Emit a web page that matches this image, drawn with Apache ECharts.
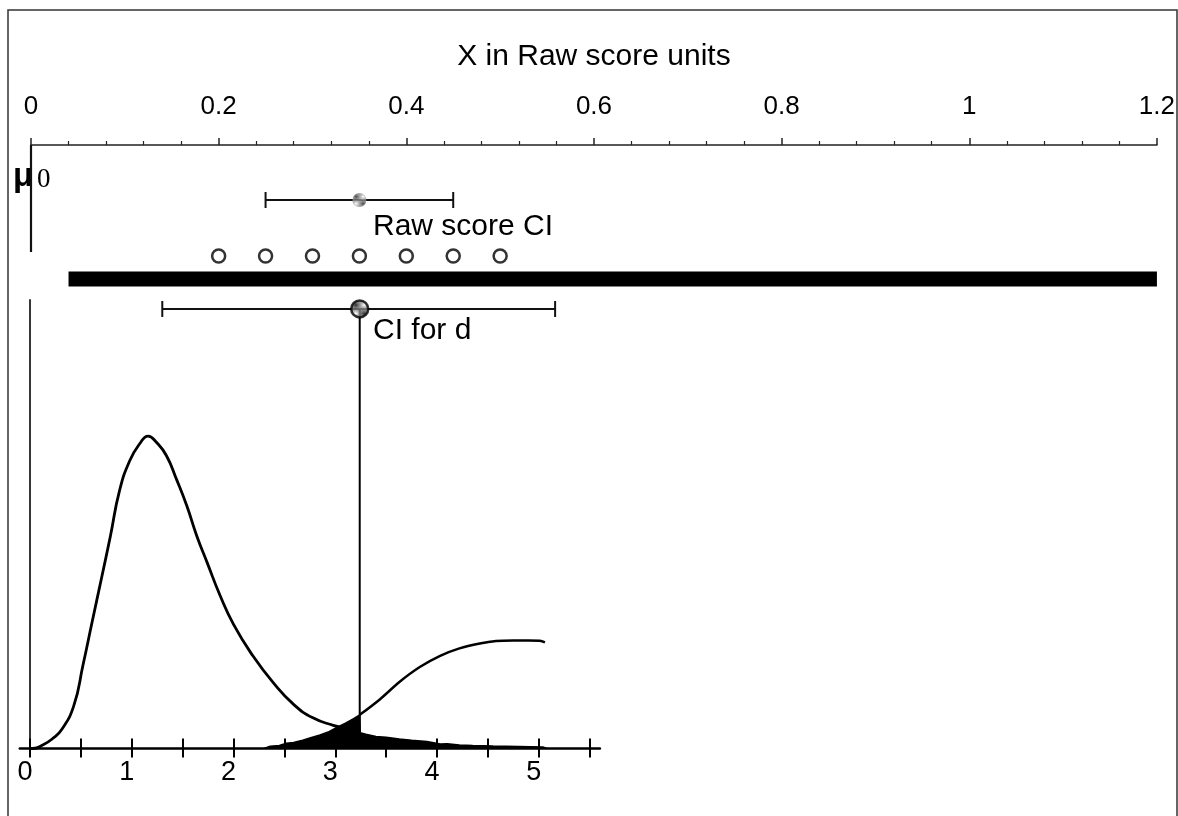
<!DOCTYPE html>
<html>
<head>
<meta charset="utf-8">
<script src="https://cdn.jsdelivr.net/npm/echarts@6/dist/echarts.min.js"></script>
<style>
  html, body { margin: 0; padding: 0; background: #fff; }
  #chart { width: 1178px; height: 816px; }
</style>
</head>
<body>
<div id="chart"></div>
<script>
// raw score units (top scale)
const rawCI = [0.25, 0.45];
const rawMean = 0.35;
const rawSamples = [0.2, 0.25, 0.3, 0.35, 0.4, 0.45, 0.5];
const rawBand = [0.04, 1.2];

// d units (bottom scale)
const dCI = [1.30, 5.16];
const dObs = 3.24;
const dTicks = [0, 0.5, 1, 1.5, 2, 2.5, 3, 3.5, 4, 4.5, 5, 5.5];
const dLabels = [0, 1, 2, 3, 4, 5];

// sampling density of d
const densX = [0, 0.03, 0.13, 0.22, 0.31, 0.43, 0.52, 0.61, 0.70, 0.79, 0.88, 0.98, 1.08, 1.16, 1.24, 1.34, 1.44, 1.54, 1.64, 1.74, 1.87, 2.0, 2.19, 2.39, 2.59, 2.78, 2.98, 3.08];
const densY = [0, 0, 0.005, 0.013, 0.025, 0.057, 0.111, 0.169, 0.226, 0.284, 0.345, 0.385, 0.408, 0.418, 0.410, 0.392, 0.360, 0.325, 0.284, 0.249, 0.204, 0.166, 0.124, 0.088, 0.059, 0.041, 0.031, 0.028];

// rising curve to the right of observed d
const riseX = [3.24, 3.44, 3.63, 3.83, 4.03, 4.22, 4.42, 4.58, 4.75, 4.90, 5.01, 5.06];
const riseY = [0.045, 0.066, 0.089, 0.109, 0.124, 0.134, 0.1405, 0.1438, 0.1445, 0.1445, 0.1443, 0.142];

// filled histogram around observed d
const fillX = [2.30, 2.36, 2.45, 2.52, 2.59, 2.68, 2.75, 2.85, 2.93, 3.01, 3.10, 3.18, 3.24, 3.245, 3.30, 3.40, 3.50, 3.63, 3.75, 3.90, 4.03, 4.10, 4.22, 4.35, 4.55, 4.80, 5.04, 5.08];
const fillY = [0, 0.003, 0.004, 0.007, 0.008, 0.011, 0.014, 0.018, 0.022, 0.028, 0.034, 0.040, 0.045, 0.021, 0.019, 0.016, 0.015, 0.0127, 0.011, 0.0094, 0.006, 0.0062, 0.0047, 0.004, 0.0033, 0.0027, 0.002, 0];

// row levels inside the top grid (pixels below the raw axis)
const ROW_RAW_CI = 55, ROW_SAMPLES = 111, ROW_BAND = 134, ROW_MU_END = 107;
const ROW_D_CI = 0.588;

const zip = (xs, ys) => xs.map((x, i) => [x, ys[i]]);

// checkered fill like the printed dots
function checker(dark) {
    const c = document.createElement('canvas');
    c.width = 2; c.height = 2;
    const ctx = c.getContext('2d');
    ctx.fillStyle = '#fff';
    ctx.fillRect(0, 0, 2, 2);
    ctx.fillStyle = dark;
    ctx.fillRect(0, 0, 1, 1);
    ctx.fillRect(1, 1, 1, 1);
    return { image: c, repeat: 'repeat' };
}

function errorBar(params, api) {
    const lo = api.coord([api.value(0), api.value(2)]);
    const hi = api.coord([api.value(1), api.value(2)]);
    const cap = 8;
    const st = { stroke: '#111', lineWidth: 2 };
    return {
        type: 'group',
        children: [
            { type: 'line', shape: { x1: lo[0], y1: lo[1], x2: hi[0], y2: hi[1] }, style: st },
            { type: 'line', shape: { x1: lo[0], y1: lo[1] - cap, x2: lo[0], y2: lo[1] + cap }, style: st },
            { type: 'line', shape: { x1: hi[0], y1: hi[1] - cap, x2: hi[0], y2: hi[1] + cap }, style: st }
        ]
    };
}

const font = 'Liberation Sans, Arial, sans-serif';
const chart = echarts.init(document.getElementById('chart'));

const option = {
    animation: false,
    backgroundColor: '#fff',
    textStyle: { fontFamily: font, color: '#000' },
    grid: [
        { left: 31, right: 21, top: 145, height: 150 },
        { left: 19.8, width: 580.1, top: 300, height: 448.5 }
    ],
    xAxis: [
        {
            gridIndex: 0, type: 'value', position: 'top', min: 0, max: 1.2, interval: 0.2,
            name: 'X in Raw score units', nameLocation: 'middle', nameGap: 73,
            nameTextStyle: { fontSize: 30, color: '#000', fontFamily: font },
            axisLine: { show: true, lineStyle: { color: '#222', width: 1.5 } },
            axisTick: { show: true, length: 7, lineStyle: { color: '#222', width: 1.5 } },
            minorTick: { show: true, splitNumber: 5, length: 4, lineStyle: { color: '#222', width: 1.2 } },
            axisLabel: { fontSize: 26, color: '#000', margin: 25, fontFamily: font,
                formatter: v => String(+v.toFixed(1)) },
            splitLine: { show: false }
        },
        {
            gridIndex: 1, type: 'value', position: 'bottom', min: -0.1, max: 5.6,
            axisLine: { show: true, onZero: false, lineStyle: { color: '#000', width: 2.5 } },
            axisTick: { show: true, customValues: dTicks, length: 9, lineStyle: { color: '#000', width: 2 } },
            axisLabel: { customValues: dLabels, fontSize: 27, color: '#000', margin: 11,
                padding: [0, 10, 0, 0], fontFamily: font },
            splitLine: { show: false }
        },
        {
            gridIndex: 1, type: 'value', position: 'bottom', min: -0.1, max: 5.6,
            axisLine: { show: false, onZero: false },
            axisTick: { show: true, inside: true, customValues: dTicks, length: 10, lineStyle: { color: '#000', width: 2 } },
            axisLabel: { show: false },
            splitLine: { show: false }
        }
    ],
    yAxis: [
        {
            gridIndex: 0, type: 'value', inverse: true, min: 0, max: 150, show: false
        },
        {
            gridIndex: 1, type: 'value', min: 0, max: 0.6,
            axisLine: { show: true, onZero: true, lineStyle: { color: '#222', width: 1.8 } },
            axisTick: { show: false }, axisLabel: { show: false }, splitLine: { show: false }
        }
    ],
    series: [
        // mu0 reference line
        {
            type: 'line', xAxisIndex: 0, yAxisIndex: 0, symbol: 'none',
            data: [[0, 0], [0, ROW_MU_END]],
            lineStyle: { color: '#111', width: 2.2 }
        },
        // band across the raw scale
        {
            type: 'line', xAxisIndex: 0, yAxisIndex: 0, symbol: 'none',
            data: [[rawBand[0], ROW_BAND], [rawBand[1], ROW_BAND]],
            lineStyle: { color: '#000', width: 15, cap: 'butt' }
        },
        // raw score CI
        {
            type: 'custom', xAxisIndex: 0, yAxisIndex: 0, renderItem: errorBar,
            encode: { x: [0, 1], y: 2 },
            data: [[rawCI[0], rawCI[1], ROW_RAW_CI]]
        },
        {
            type: 'scatter', xAxisIndex: 0, yAxisIndex: 0, symbolSize: 14, z: 5,
            data: [[rawMean, ROW_RAW_CI]],
            itemStyle: { color: checker('#222'), borderWidth: 0 }
        },
        // sample means
        {
            type: 'scatter', xAxisIndex: 0, yAxisIndex: 0, symbol: 'circle', symbolSize: 13,
            data: rawSamples.map(v => [v, ROW_SAMPLES]),
            itemStyle: { color: '#fff', borderColor: '#000', borderWidth: 2.5 }
        },
        // CI for d
        {
            type: 'custom', xAxisIndex: 1, yAxisIndex: 1, renderItem: errorBar,
            encode: { x: [0, 1], y: 2 },
            data: [[dCI[0], dCI[1], ROW_D_CI]]
        },
        // vertical drop at observed d
        {
            type: 'line', xAxisIndex: 1, yAxisIndex: 1, symbol: 'none',
            data: [[dObs, 0], [dObs, ROW_D_CI]],
            lineStyle: { color: '#000', width: 2 }
        },
        {
            type: 'scatter', xAxisIndex: 1, yAxisIndex: 1, symbolSize: 17, z: 5,
            data: [[dObs, ROW_D_CI]],
            itemStyle: { color: checker('#000'), borderColor: '#000', borderWidth: 2.5 }
        },
        // density curve
        {
            type: 'line', xAxisIndex: 1, yAxisIndex: 1, symbol: 'none', smooth: 0.5,
            data: zip(densX, densY),
            lineStyle: { color: '#000', width: 2.8 }
        },
        // rising curve
        {
            type: 'line', xAxisIndex: 1, yAxisIndex: 1, symbol: 'none', smooth: 0.3,
            data: zip(riseX, riseY),
            lineStyle: { color: '#000', width: 2.5 }
        },
        // filled area
        {
            type: 'line', xAxisIndex: 1, yAxisIndex: 1, symbol: 'none', z: 3,
            data: zip(fillX, fillY),
            lineStyle: { color: '#000', width: 1.5 },
            areaStyle: { color: '#000', opacity: 1 }
        }
    ],
    graphic: [
        {
            type: 'rect', silent: true,
            shape: { x: 8, y: 10, width: 1169, height: 820 },
            style: { fill: 'none', stroke: '#333', lineWidth: 1.5 }
        },
        {
            type: 'text', left: 373, top: 212,
            style: { text: 'Raw score CI', font: '30px ' + font, fill: '#000' }
        },
        {
            type: 'text', left: 373, top: 316,
            style: { text: 'CI for d', font: '30px ' + font, fill: '#000' }
        },
        {
            type: 'text', left: 13, top: 160,
            style: { text: 'μ', font: 'bold 33px ' + font, fill: '#000' }
        },
        {
            type: 'text', left: 37, top: 166,
            style: { text: '0', font: '27px Liberation Serif, serif', fill: '#000' }
        }
    ]
};

chart.setOption(option);
</script>
</body>
</html>
